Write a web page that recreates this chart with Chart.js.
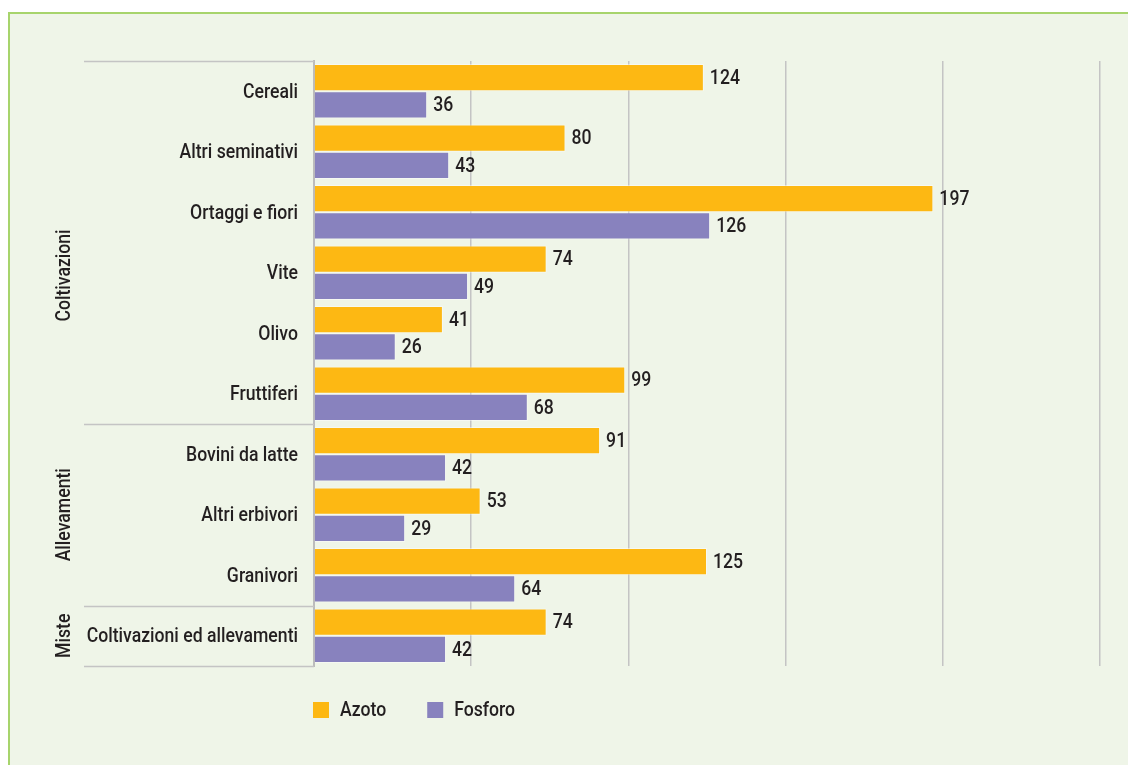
<!DOCTYPE html>
<html lang="it">
<head>
<meta charset="utf-8">
<script src="https://cdn.jsdelivr.net/npm/chart.js@4.4.1/dist/chart.umd.min.js"></script>
<style>
  html, body { margin: 0; padding: 0; background: #fff; width: 1128px; height: 765px; overflow: hidden; }
  .panel {
    position: absolute; left: 8px; top: 12px; right: 0; bottom: 0;
    background: #eff5e8;
    border-top: 2px solid #a7d46c;
    border-left: 2px solid #a7d46c;
  }
  #chartWrap { position: absolute; left: 0; top: 0; width: 1128px; height: 765px; }
  #fertChart { display: block; }
</style>
</head>
<body>
<div class="panel"></div>
<div id="chartWrap"><canvas id="fertChart" width="1128" height="765"></canvas></div>

<script>
const categories = [
  'Cereali', 'Altri seminativi', 'Ortaggi e fiori', 'Vite', 'Olivo', 'Fruttiferi',
  'Bovini da latte', 'Altri erbivori', 'Granivori',
  'Coltivazioni ed allevamenti'
];
const azoto   = [124, 80, 197, 74, 41, 99, 91, 53, 125, 74];
const fosforo = [36, 43, 126, 49, 26, 68, 42, 29, 64, 42];
const groupNames = ['Coltivazioni', 'Allevamenti', 'Miste'];
const groupStart = [0, 6, 9];
const groupEnd   = [5, 8, 9];
const xTicks = [0, 50, 100, 150, 200, 250];

const FONT = '500 21px Roboto, "DejaVu Sans", sans-serif';
const SQUEEZE = 0.84;   // narrow the glyphs a bit, no condensed face installed
const TEXT = '#231f20';
const LINE = '#c4c4c4';

function squeezedText(ctx, text, x, y, align, angle) {
  ctx.save();
  ctx.translate(x, y);
  if (angle) ctx.rotate(angle);
  ctx.scale(SQUEEZE, 1);
  ctx.textAlign = align;
  ctx.fillText(text, 0, 0);
  ctx.restore();
}

function squeezedWidth(ctx, text) {
  return ctx.measureText(text).width * SQUEEZE;
}

// numbers printed just past the end of each bar
const valueLabels = {
  id: 'valueLabels',
  afterDatasetsDraw(chart) {
    const ctx = chart.ctx;
    ctx.save();
    ctx.font = FONT;
    ctx.fillStyle = TEXT;
    ctx.textBaseline = 'middle';
    chart.data.datasets.forEach((ds, i) => {
      chart.getDatasetMeta(i).data.forEach((bar, j) => {
        squeezedText(ctx, String(ds.data[j]), bar.x + 6, bar.y + 1, 'left');
      });
    });
    ctx.restore();
  }
};

// category names, group separators and rotated group names on the left
const leftLabels = {
  id: 'leftLabels',
  afterDraw(chart, args, opts) {
    const y = chart.scales.y;
    const area = chart.chartArea;
    const ctx = chart.ctx;
    const edge = (i) => {
      if (i < 0) return area.top;
      if (i >= categories.length - 1) return area.bottom;
      return (y.getPixelForValue(i) + y.getPixelForValue(i + 1)) / 2;
    };

    ctx.save();
    ctx.strokeStyle = LINE;
    ctx.lineWidth = 1.5;
    [-1].concat(groupEnd).forEach(i => {
      const py = Math.round(edge(i)) + 0.5;
      ctx.beginPath();
      ctx.moveTo(opts.lineStart, py);
      ctx.lineTo(area.left, py);
      ctx.stroke();
    });

    ctx.font = FONT;
    ctx.fillStyle = TEXT;
    ctx.textBaseline = 'middle';
    categories.forEach((name, i) => {
      squeezedText(ctx, name, area.left - opts.tickGap, y.getPixelForValue(i) + 1, 'right');
    });

    groupNames.forEach((name, g) => {
      const mid = (edge(groupStart[g] - 1) + edge(groupEnd[g])) / 2 + (opts.shift[g] || 0);
      squeezedText(ctx, name, opts.labelX, mid, 'center', -Math.PI / 2);
    });
    ctx.restore();
  }
};

// legend row under the plot
const legendRow = {
  id: 'legendRow',
  afterDraw(chart, args, opts) {
    const ctx = chart.ctx;
    let x = chart.chartArea.left - 1;
    const cy = opts.y;
    ctx.save();
    ctx.font = FONT;
    ctx.textBaseline = 'middle';
    chart.data.datasets.forEach(ds => {
      ctx.fillStyle = ds.backgroundColor;
      ctx.fillRect(x, cy - 8, 16, 16);
      ctx.fillStyle = TEXT;
      squeezedText(ctx, ds.label, x + 27, cy + 1, 'left');
      x += 27 + squeezedWidth(ctx, ds.label) + 41;
    });
    ctx.restore();
  }
};

const ctx = document.getElementById('fertChart').getContext('2d');
const fertChart = new Chart(ctx, {
  type: 'bar',
  data: {
    labels: categories,
    datasets: [
      { label: 'Azoto', data: azoto, backgroundColor: '#fdb813' },
      { label: 'Fosforo', data: fosforo, backgroundColor: '#8882be' }
    ]
  },
  options: {
    indexAxis: 'y',
    responsive: false,
    animation: false,
    events: [],
    layout: { padding: { left: 0, top: 61, right: 28, bottom: 99 } },
    datasets: {
      bar: {
        categoryPercentage: 0.9,
        barPercentage: 1,
        borderWidth: { top: 1, bottom: 1, left: 0, right: 1 },
        borderColor: 'rgba(255,255,255,0.45)'
      }
    },
    scales: {
      x: {
        min: 0,
        max: 250,
        afterBuildTicks: (scale) => { scale.ticks = xTicks.map(v => ({ value: v })); },
        afterFit: (scale) => { scale.height = 0; },
        ticks: { display: false },
        grid: { color: LINE, lineWidth: 1.5, drawTicks: false },
        border: { display: false }
      },
      y: {
        afterFit: (scale) => { scale.width = 314; },
        grid: { display: false },
        border: { display: true, color: '#bcbcbc', width: 2 },
        ticks: { display: false }
      }
    },
    plugins: {
      legend: { display: false },
      tooltip: { enabled: false },
      leftLabels: { lineStart: 84, labelX: 65, tickGap: 16, shift: [33, 0, 0] },
      legendRow: { y: 710 }
    }
  },
  plugins: [valueLabels, leftLabels, legendRow]
});
</script>
</body>
</html>
